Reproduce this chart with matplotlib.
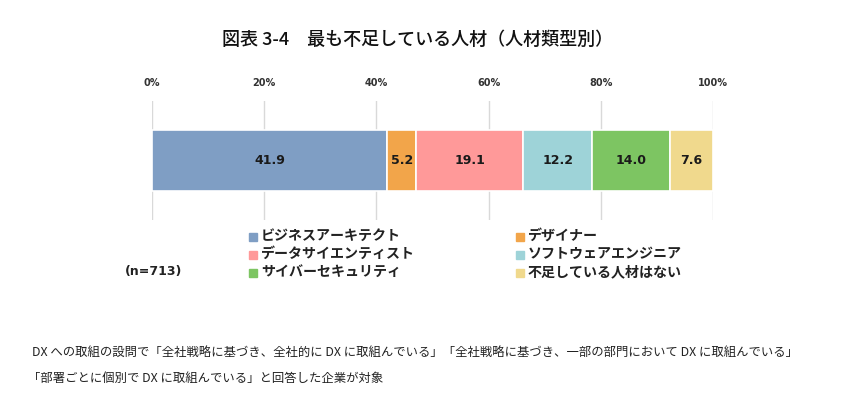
import matplotlib
matplotlib.use("Agg")
import matplotlib.pyplot as plt
from matplotlib.patches import Rectangle

plt.rcParams['font.family'] = ['Noto Sans CJK JP', 'DejaVu Sans']
LATIN = ['DejaVu Sans', 'Noto Sans CJK JP']

categories = ["ビジネスアーキテクト", "デザイナー", "データサイエンティスト",
              "ソフトウェアエンジニア", "サイバーセキュリティ", "不足している人材はない"]
values = [41.9, 5.2, 19.1, 12.2, 14.0, 7.6]
colors = ["#7F9EC4", "#F2A54A", "#FF9999", "#9ED3D8", "#7DC562", "#F0D98D"]
xticks = [0, 20, 40, 60, 80, 100]
xticklabels = ["0%", "20%", "40%", "60%", "80%", "100%"]

fig = plt.figure(figsize=(8.68, 3.98), dpi=100)
W, H = 868, 398
ax = fig.add_axes([152 / W, 1 - 220 / H, (713 - 152) / W, 119 / H])

left = 0
for v, c in zip(values, colors):
    ax.barh(0, v, left=left, height=0.52, color=c, edgecolor="white", linewidth=1.2, zorder=3)
    ax.text(left + v / 2, 0, f"{v:.1f}", ha="center", va="center", family=LATIN,
            fontsize=9, fontweight="bold", color="#1a1a1a", zorder=4)
    left += v

ax.set_xlim(0, 100)
ax.set_ylim(-0.5, 0.5)
ax.set_xticks(xticks)
ax.set_xticklabels(xticklabels, fontsize=7, fontweight="bold", color="#333333", family=LATIN)
ax.xaxis.tick_top()
ax.tick_params(axis="x", length=0, pad=9)
ax.set_yticks([])
for s in ax.spines.values():
    s.set_visible(False)
ax.grid(axis="x", color="#D9D9D9", linewidth=1, zorder=0)

fig.text(418 / W, 1 - 40 / H, "図表 3-4　最も不足している人材（人材類型別）",
         ha="center", va="center", fontsize=13, fontweight="medium", color="#111111")

# legend (manual two-column layout)
pos = [(253, 236), (520, 236), (253, 254), (520, 254), (253, 272), (520, 272)]
for (px, py), name, c in zip(pos, categories, colors):
    fig.patches.append(Rectangle((px / W - 4 / W, 1 - py / H - 5 / H), 8 / W, 8 / H,
                                 transform=fig.transFigure, color=c))
    fig.text((px + 8) / W, 1 - py / H, name, ha="left", va="center",
             fontsize=10.1, fontweight="bold", color="#222222")

fig.text(125 / W, 1 - 272 / H, "(n=713)", ha="left", va="center", family=LATIN,
         fontsize=9, fontweight="bold", color="#222222")

fig.text(32 / W, 1 - 352 / H,
         "DX への取組の設問で「全社戦略に基づき、全社的に DX に取組んでいる」「全社戦略に基づき、一部の部門において DX に取組んでいる」",
         ha="left", va="center", fontsize=8.9, color="#222222")
fig.text(28 / W, 1 - 378 / H,
         "「部署ごとに個別で DX に取組んでいる」と回答した企業が対象",
         ha="left", va="center", fontsize=8.9, color="#222222")

fig.savefig("out.png", dpi=100)
